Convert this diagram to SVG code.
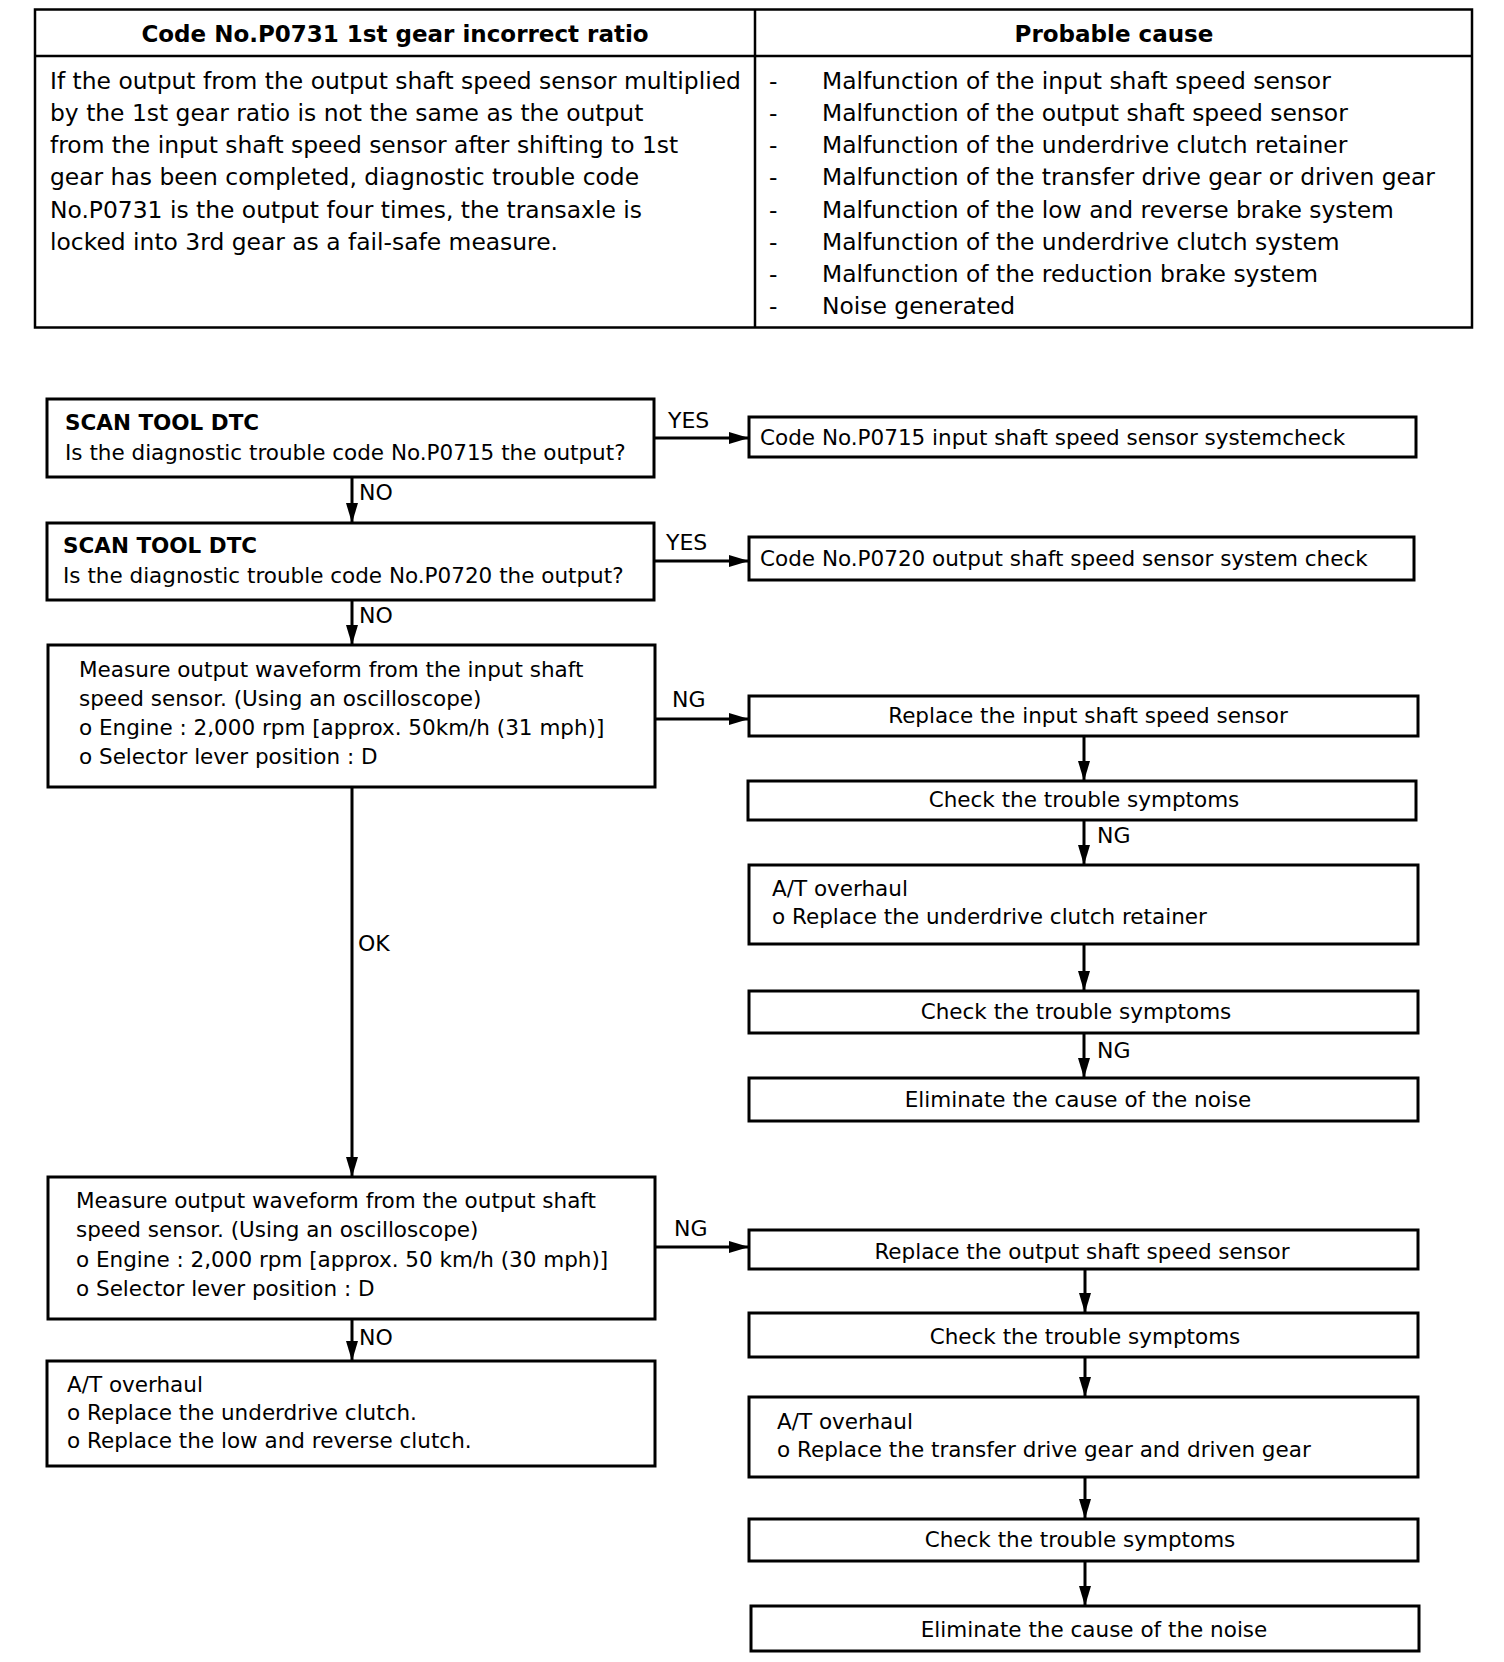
<svg xmlns="http://www.w3.org/2000/svg" width="1504" height="1662" viewBox="0 0 1504 1662">
<style>
.t{font-family:"DejaVu Sans",sans-serif;font-size:21.5px;fill:#000}
.b{font-weight:bold}
.tt{font-family:"DejaVu Sans",sans-serif;font-size:23.4px;fill:#000}
.th{font-family:"DejaVu Sans",sans-serif;font-size:23px;font-weight:bold;fill:#000}
.lbl{font-family:"DejaVu Sans",sans-serif;font-size:22px;fill:#000}
.box{fill:#fff;stroke:#000;stroke-width:3}
.tbl{fill:none;stroke:#000;stroke-width:2.5}
.c{fill:none;stroke:#000;stroke-width:3;marker-end:url(#ah)}
.m{text-anchor:middle}
</style>
<defs>
<marker id="ah" viewBox="0 0 20 12" refX="20" refY="6" markerWidth="20" markerHeight="12" markerUnits="userSpaceOnUse" orient="auto">
<path d="M0,0 L20,6 L0,12 z" fill="#000"/>
</marker>
</defs>
<rect width="1504" height="1662" fill="#fff"/>

<g id="table">
<rect class="tbl" x="35" y="9.5" width="1437" height="318"/>
<line class="tbl" x1="35" y1="56" x2="1472" y2="56"/>
<line class="tbl" x1="755" y1="9.5" x2="755" y2="327.5"/>
<text class="th m" x="395" y="42">Code No.P0731 1st gear incorrect ratio</text>
<text class="th m" x="1114" y="42">Probable cause</text>
<text class="tt" x="50" y="89">If the output from the output shaft speed sensor multiplied</text>
<text class="tt" x="50" y="121">by the 1st gear ratio is not the same as the output</text>
<text class="tt" x="50" y="153">from the input shaft speed sensor after shifting to 1st</text>
<text class="tt" x="50" y="185">gear has been completed, diagnostic trouble code</text>
<text class="tt" x="50" y="218">No.P0731 is the output four times, the transaxle is</text>
<text class="tt" x="50" y="250">locked into 3rd gear as a fail-safe measure.</text>
<g class="tt">
<text x="769" y="89">-</text><text x="822" y="89">Malfunction of the input shaft speed sensor</text>
<text x="769" y="121">-</text><text x="822" y="121">Malfunction of the output shaft speed sensor</text>
<text x="769" y="153">-</text><text x="822" y="153">Malfunction of the underdrive clutch retainer</text>
<text x="769" y="185">-</text><text x="822" y="185">Malfunction of the transfer drive gear or driven gear</text>
<text x="769" y="218">-</text><text x="822" y="218">Malfunction of the low and reverse brake system</text>
<text x="769" y="250">-</text><text x="822" y="250">Malfunction of the underdrive clutch system</text>
<text x="769" y="282">-</text><text x="822" y="282">Malfunction of the reduction brake system</text>
<text x="769" y="314">-</text><text x="822" y="314">Noise generated</text>
</g>
</g>

<g id="connectors">
<path class="c" d="M654,438 H749"/>
<path class="c" d="M654,561 H749"/>
<path class="c" d="M352,477 V523"/>
<path class="c" d="M352,600 V645"/>
<path class="c" d="M655,719 H749"/>
<path class="c" d="M1084,736 V781"/>
<path class="c" d="M1084,820 V865"/>
<path class="c" d="M1084,944 V991"/>
<path class="c" d="M1084,1033 V1078"/>
<path class="c" d="M352,787 V1177"/>
<path class="c" d="M655,1247 H749"/>
<path class="c" d="M1085,1269 V1313"/>
<path class="c" d="M1085,1357 V1397"/>
<path class="c" d="M1085,1477 V1519"/>
<path class="c" d="M1085,1561 V1606"/>
<path class="c" d="M352,1319 V1361"/>
<text class="lbl" x="668" y="428">YES</text>
<text class="lbl" x="666" y="550">YES</text>
<text class="lbl" x="359" y="500">NO</text>
<text class="lbl" x="359" y="623">NO</text>
<text class="lbl" x="672" y="707">NG</text>
<text class="lbl" x="1097" y="843">NG</text>
<text class="lbl" x="1097" y="1058">NG</text>
<text class="lbl" x="358" y="951">OK</text>
<text class="lbl" x="674" y="1236">NG</text>
<text class="lbl" x="359" y="1345">NO</text>
</g>

<g id="n1">
<rect class="box" x="47" y="399" width="607" height="78"/>
<text class="t b" x="65" y="430">SCAN TOOL DTC</text>
<text class="t" x="65" y="460">Is the diagnostic trouble code No.P0715 the output?</text>
</g>
<g id="n2">
<rect class="box" x="47" y="523" width="607" height="77"/>
<text class="t b" x="63" y="553">SCAN TOOL DTC</text>
<text class="t" x="63" y="583">Is the diagnostic trouble code No.P0720 the output?</text>
</g>
<g id="n3">
<rect class="box" x="48" y="645" width="607" height="142"/>
<text class="t" x="79" y="677">Measure output waveform from the input shaft</text>
<text class="t" x="79" y="706">speed sensor. (Using an oscilloscope)</text>
<text class="t" x="79" y="735">o Engine : 2,000 rpm [approx. 50km/h (31 mph)]</text>
<text class="t" x="79" y="764">o Selector lever position : D</text>
</g>
<g id="n4">
<rect class="box" x="48" y="1177" width="607" height="142"/>
<text class="t" x="76" y="1208">Measure output waveform from the output shaft</text>
<text class="t" x="76" y="1237">speed sensor. (Using an oscilloscope)</text>
<text class="t" x="76" y="1267">o Engine : 2,000 rpm [approx. 50 km/h (30 mph)]</text>
<text class="t" x="76" y="1296">o Selector lever position : D</text>
</g>
<g id="n5">
<rect class="box" x="47" y="1361" width="608" height="105"/>
<text class="t" x="67" y="1392">A/T overhaul</text>
<text class="t" x="67" y="1420">o Replace the underdrive clutch.</text>
<text class="t" x="67" y="1448">o Replace the low and reverse clutch.</text>
</g>
<g id="nA">
<rect class="box" x="749" y="417" width="667" height="40"/>
<text class="t" x="760" y="445">Code No.P0715 input shaft speed sensor systemcheck</text>
</g>
<g id="nB">
<rect class="box" x="749" y="537" width="665" height="43"/>
<text class="t" x="760" y="566">Code No.P0720 output shaft speed sensor system check</text>
</g>
<g id="nC">
<rect class="box" x="749" y="696" width="669" height="40"/>
<text class="t m" x="1088" y="723">Replace the input shaft speed sensor</text>
</g>
<g id="nD">
<rect class="box" x="748" y="781" width="668" height="39"/>
<text class="t m" x="1084" y="807">Check the trouble symptoms</text>
</g>
<g id="nE">
<rect class="box" x="749" y="865" width="669" height="79"/>
<text class="t" x="772" y="896">A/T overhaul</text>
<text class="t" x="772" y="924">o Replace the underdrive clutch retainer</text>
</g>
<g id="nF">
<rect class="box" x="749" y="991" width="669" height="42"/>
<text class="t m" x="1076" y="1019">Check the trouble symptoms</text>
</g>
<g id="nG">
<rect class="box" x="749" y="1078" width="669" height="43"/>
<text class="t m" x="1078" y="1107">Eliminate the cause of the noise</text>
</g>
<g id="nH">
<rect class="box" x="749" y="1230" width="669" height="39"/>
<text class="t m" x="1082" y="1259">Replace the output shaft speed sensor</text>
</g>
<g id="nI">
<rect class="box" x="749" y="1313" width="669" height="44"/>
<text class="t m" x="1085" y="1344">Check the trouble symptoms</text>
</g>
<g id="nJ">
<rect class="box" x="749" y="1397" width="669" height="80"/>
<text class="t" x="777" y="1429">A/T overhaul</text>
<text class="t" x="777" y="1457">o Replace the transfer drive gear and driven gear</text>
</g>
<g id="nK">
<rect class="box" x="749" y="1519" width="669" height="42"/>
<text class="t m" x="1080" y="1547">Check the trouble symptoms</text>
</g>
<g id="nL">
<rect class="box" x="751" y="1606" width="668" height="45"/>
<text class="t m" x="1094" y="1637">Eliminate the cause of the noise</text>
</g>
</svg>
